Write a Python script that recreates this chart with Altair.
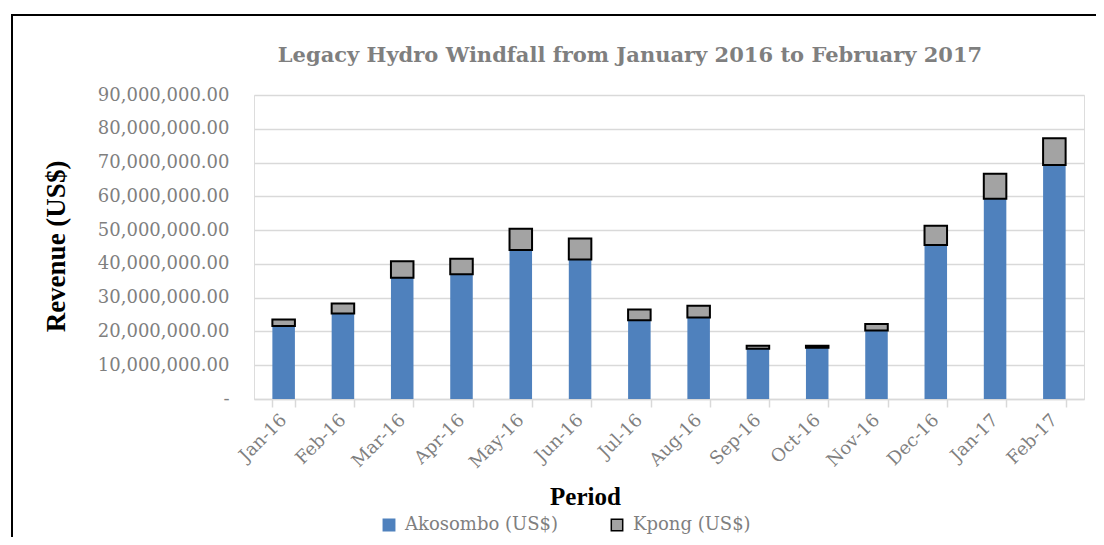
import altair as alt
import pandas as pd

months = ["Jan-16", "Feb-16", "Mar-16", "Apr-16", "May-16", "Jun-16", "Jul-16",
          "Aug-16", "Sep-16", "Oct-16", "Nov-16", "Dec-16", "Jan-17", "Feb-17"]
akosombo = [21.6, 25.3, 35.9, 36.9, 44.1, 41.3, 23.3, 24.1, 14.9, 15.2, 20.3, 45.6, 59.3, 69.3]
kpong = [1.9, 3.0, 4.9, 4.6, 6.3, 6.2, 3.2, 3.5, 0.9, 0.6, 1.9, 5.7, 7.4, 7.9]
series = ["Akosombo (US$)", "Kpong (US$)"]
y_ticks = [0, 10e6, 20e6, 30e6, 40e6, 50e6, 60e6, 70e6, 80e6, 90e6]
title_text = "Legacy Hydro Windfall from January 2016 to February 2017"

rows = []
for i, m in enumerate(months):
    rows.append({"month": m, "series": series[0], "value": akosombo[i] * 1e6, "ord": 0})
    rows.append({"month": m, "series": series[1], "value": kpong[i] * 1e6, "ord": 1})
df = pd.DataFrame(rows)

grey = "#7f7f7f"
nb = "\u00a0"

leg = alt.Legend(title=None, orient="none", legendX=126, legendY=421,
                 direction="horizontal", symbolType="square",
                 symbolSize=130, labelFont="DejaVu Serif",
                 labelFontSize=18, labelColor=grey, labelOffset=7, labelLimit=400,
                 columnPadding=50, padding=0,
                 symbolStrokeWidth=1.5, symbolOpacity=1)

bars = alt.Chart(df).mark_bar().encode(
    x=alt.X("month:N", sort=months,
            scale=alt.Scale(paddingInner=0.62, paddingOuter=0.31),
            axis=alt.Axis(title="Period", tickBand="extent", tickSize=8,
                          tickColor="#d9d9d9", tickWidth=1.5,
                          domainColor="#d9d9d9", domainWidth=1.5,
                          labelAngle=-45, labelAlign="right", labelBaseline="middle",
                          labelFont="DejaVu Serif", labelFontSize=18, labelColor=grey,
                          labelPadding=10, grid=False,
                          titleFont="Liberation Serif", titleFontSize=25,
                          titleFontWeight="bold", titleColor="black",
                          titleX=331, titleY=105, titleBaseline="alphabetic",
                          titleAlign="center")),
    y=alt.Y("value:Q", stack="zero",
            scale=alt.Scale(domain=[0, 90e6], nice=False),
            axis=alt.Axis(title="Revenue (US$)", values=y_ticks,
                          labelExpr="datum.value == 0 ? '-" + nb * 3 + "' : format(datum.value, ',.2f')",
                          ticks=False, domain=False, labelPadding=25,
                          labelFont="DejaVu Serif", labelFontSize=18, labelColor=grey,
                          gridColor="#d9d9d9", gridWidth=1.5,
                          titleFont="Liberation Serif", titleFontSize=27,
                          titleFontWeight="bold", titleColor="black",
                          titleAngle=270, titleX=-190, titleY=151,
                          titleBaseline="alphabetic", titleAlign="center")),
    color=alt.Color("series:N", scale=alt.Scale(domain=series, range=["#4f81bd", "#a3a3a3"]),
                    legend=leg),
    stroke=alt.Stroke("series:N", scale=alt.Scale(domain=series, range=["#4f81bd", "black"]),
                      legend=leg),
    strokeWidth=alt.condition("datum.series == 'Kpong (US$)'", alt.value(2), alt.value(0)),
    order=alt.Order("ord:Q"),
)

base1 = alt.Chart(pd.DataFrame({"t": [title_text]}))

frame = base1.mark_rect(
    filled=False, stroke="black", strokeWidth=2
).encode(
    x=alt.value(-242), x2=alt.value(900), y=alt.value(-80), y2=alt.value(500)
)

title = base1.mark_text(
    font="DejaVu Serif", fontSize=21, fontWeight="bold", color=grey,
    align="center", baseline="alphabetic"
).encode(
    text="t:N", x=alt.value(376), y=alt.value(-33)
)

chart = alt.layer(frame, title, bars).properties(
    width=830, height=304,
    padding={"left": 246, "top": 87, "right": 12, "bottom": 138},
    autosize=alt.AutoSizeParams(type="none"),
).configure_view(stroke=None).configure(background="white")

chart.save("out.html", embed_options={"renderer": "svg", "actions": False})
